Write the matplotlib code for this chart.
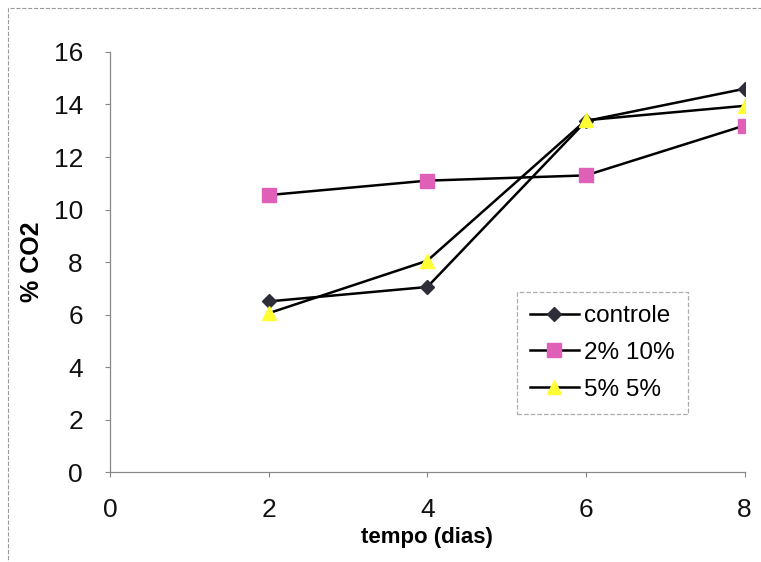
import matplotlib.pyplot as plt
from matplotlib.patches import Rectangle

# data
dias = [2, 4, 6, 8]
controle = [6.5, 7.05, 13.37, 14.6]
co2_2_10 = [10.55, 11.1, 11.3, 13.2]
co2_5_5 = [6.05, 8.05, 13.4, 13.95]

plt.rcParams['font.family'] = ['Liberation Sans', 'DejaVu Sans']

fig = plt.figure(figsize=(7.61, 5.62), dpi=100)
ax = fig.add_axes([0.1445, 0.160, 0.834, 0.7475])

# outer chart border (Excel style)
fig.patches.append(Rectangle((0.011, -0.05), 1.1, 1.036, transform=fig.transFigure,
                             fill=False, edgecolor='#999999', linewidth=0.8, linestyle='--'))

ax.plot(dias, controle, color='black', linewidth=1.8, marker='D', markersize=7,
        markerfacecolor='#2e2e3a', markeredgecolor='#2e2e3a', label='controle')
ax.plot(dias, co2_2_10, color='black', linewidth=1.8, marker='s', markersize=10,
        markerfacecolor='#e060b8', markeredgecolor='#e060b8', label='2% 10%')
ax.plot(dias, co2_5_5, color='black', linewidth=1.8, marker='^', markersize=10,
        markerfacecolor='#ffff33', markeredgecolor='#ffff33', label='5% 5%')

ax.set_xlim(0, 8)
ax.set_ylim(0, 16)
ax.set_xticks([0, 2, 4, 6, 8])
ax.set_yticks(range(0, 17, 2))

for side in ['top', 'right']:
    ax.spines[side].set_visible(False)
for side in ['left', 'bottom']:
    ax.spines[side].set_color('#888888')
    ax.spines[side].set_linewidth(0.9)

ax.tick_params(axis='both', labelsize=19, colors='#888888', labelcolor='#111111',
               length=3.5, width=0.8)
ax.tick_params(axis='x', pad=15)
ax.tick_params(axis='y', pad=16)

ax.set_xlabel('tempo (dias)', fontsize=16, fontweight='bold', labelpad=4)
ax.set_ylabel('% CO2', fontsize=18, fontweight='bold', labelpad=7)

leg = ax.legend(loc='upper left', bbox_to_anchor=(0.641, 0.4286), fontsize=17.5,
                frameon=True, fancybox=False, edgecolor='#999999',
                handlelength=2.0, labelspacing=0.6, borderpad=0.55, handletextpad=0.2,
                borderaxespad=0)
leg.get_frame().set_linewidth(0.9)
leg.get_frame().set_linestyle('--')

fig.savefig('out.png', dpi=100)
